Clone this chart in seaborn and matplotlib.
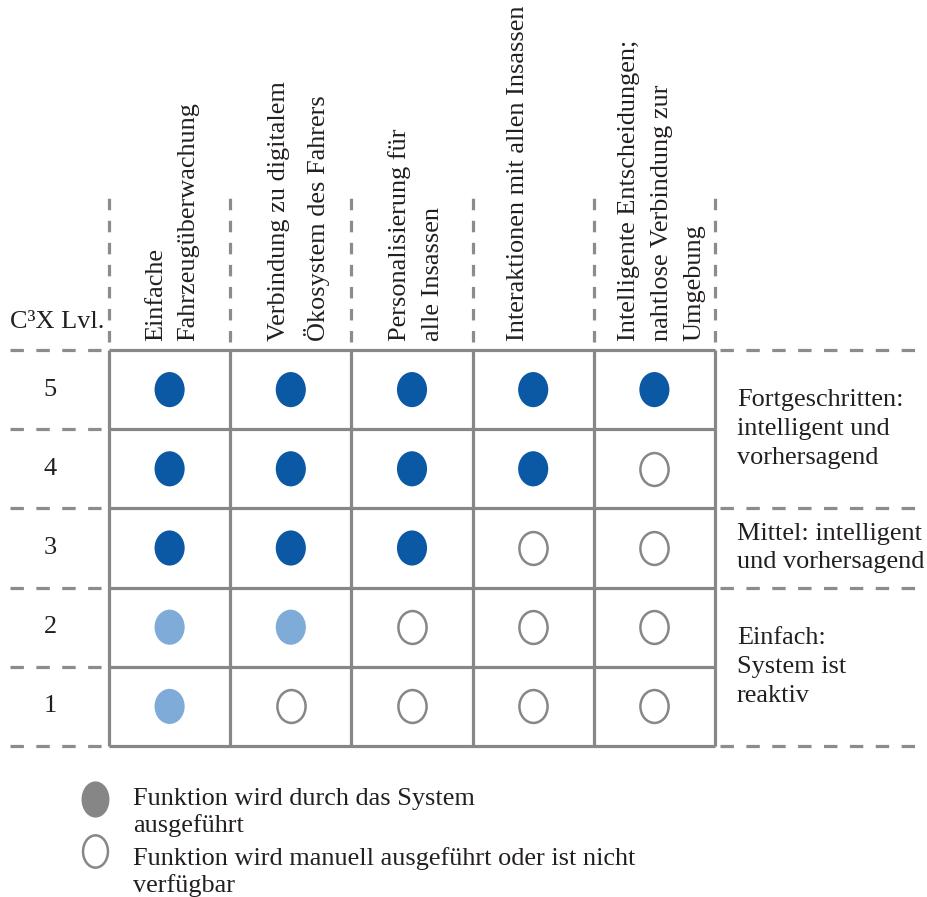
import matplotlib
matplotlib.use("Agg")
import matplotlib.pyplot as plt
import seaborn as sns
import pandas as pd
from matplotlib.path import Path
from matplotlib.transforms import Affine2D

# ---------------- data ----------------
columns = [
    "Einfache\nFahrzeugüberwachung",
    "Verbindung zu digitalem\nÖkosystem des Fahrers",
    "Personalisierung für\nalle Insassen",
    "Interaktionen mit allen Insassen",
    "Intelligente Entscheidungen;\nnahtlose Verbindung zur\nUmgebung",
]
levels = [1, 2, 3, 4, 5]
# state per column: 0 = manual / not available, 1 = basic (light), 2 = advanced (dark)
level_1 = [1, 0, 0, 0, 0]
level_2 = [1, 1, 0, 0, 0]
level_3 = [2, 2, 2, 0, 0]
level_4 = [2, 2, 2, 2, 0]
level_5 = [2, 2, 2, 2, 2]
group_labels = ["Einfach:\nSystem ist\nreaktiv",
                "Mittel: intelligent\nund vorhersagend",
                "Fortgeschritten:\nintelligent und\nvorhersagend"]
group_spans = [(1, 2), (3, 3), (4, 5)]
level_title = "C³X Lvl."
legend_labels = ["Funktion wird durch das System\nausgeführt",
                 "Funktion wird manuell ausgeführt oder ist nicht\nverfügbar"]

# ---------------- style ----------------
sns.set_theme(style="white")
plt.rcParams["font.family"] = ["Liberation Serif", "DejaVu Serif"]
FS = 18.9
TXT = "#231f20"
LINE = "#878787"
DASH = "#8c8c8c"
DARK = "#0b58a5"
LIGHT = "#7eabd8"
palette = {1: LIGHT, 2: DARK}

W, H = 927, 897
X0, CW = 109, 121.2   # layout: grid left px, column width px
Y0, RH = 746, 79.2    # layout: grid bottom px, row height px


def px(x):
    return (x - X0) / CW


def py(y):
    return (Y0 - y) / RH


fig = plt.figure(figsize=(W / 100, H / 100), dpi=100)
ax = fig.add_axes([0, 0, 1, 1])

ncol = len(columns)
nlev = len(levels)

rows = []
for lev, states in zip(levels, [level_1, level_2, level_3, level_4, level_5]):
    for ci, s in enumerate(states):
        rows.append({"col": ci + 0.5, "lev": lev - 0.5, "state": s})
df = pd.DataFrame(rows)

# ellipse marker (30 x 35 px)
ell = Path.unit_circle().transformed(Affine2D().scale(30 / 35, 1.0))
ell_leg = Path.unit_circle().transformed(Affine2D().scale(27 / 35, 1.0))

# grid solid lines
for c in range(ncol + 1):
    ax.plot([c, c], [0, nlev], color=LINE, lw=2.3, solid_capstyle="butt", zorder=2)
for r in range(nlev + 1):
    ax.plot([0, ncol], [r, r], color=LINE, lw=2.3, solid_capstyle="butt", zorder=2)

# dashed extensions
for r in range(nlev + 1):
    ax.plot([px(10), 0], [r, r], color=DASH, lw=2.3, dashes=(4.2, 3.9), zorder=1)
bounds = sorted(set([lo - 1 for lo, hi in group_spans] + [hi for lo, hi in group_spans]))
for b in bounds:
    ax.plot([px(720), px(916)], [b, b], color=DASH, lw=2.3, dashes=(4.2, 3.9), zorder=1)
for c in range(ncol + 1):
    ax.plot([c, c], [py(342), py(190)], color=DASH, lw=2.3, dashes=(3.6, 3.3), zorder=1)

# circles
filled = df[df.state > 0]
empty = df[df.state == 0]
sns.scatterplot(data=filled, x="col", y="lev", hue="state", palette=palette,
                marker=ell, s=640, linewidth=0, legend=False, ax=ax, zorder=3)
sns.scatterplot(data=empty, x="col", y="lev", marker=ell, s=560,
                facecolor="white", edgecolor=LINE, linewidth=1.8, legend=False,
                ax=ax, zorder=3)
ax.set_xlim(px(0), px(W))
ax.set_ylim(py(H), py(0))
ax.set_xlabel("")
ax.set_ylabel("")
ax.axis("off")

# level numbers + title
for lev in levels:
    ax.text(px(50), lev - 0.5, str(lev), ha="center", va="center", fontsize=FS, color=TXT)
ax.text(px(10), py(322), level_title, ha="left", va="center", fontsize=FS, color=TXT)

# column headers (rotated)
col_centers = [172, 299, 416, 518, 662]
for lab, cx in zip(columns, col_centers):
    ax.text(px(cx), py(341), lab, rotation=90, ha="center", va="bottom",
            multialignment="left", fontsize=FS, color=TXT, linespacing=1.62)

# group labels
for lab, (lo, hi) in zip(group_labels, group_spans):
    ax.text(px(737), (lo - 1 + hi) / 2, lab, ha="left", va="center",
            fontsize=FS, color=TXT, linespacing=1.4)

# legend
ax.scatter([px(95)], [py(799)], marker=ell_leg, s=680, color="#868686", linewidth=0,
           clip_on=False)
ax.scatter([px(95)], [py(851)], marker=ell_leg, s=540, facecolor="white",
           edgecolor=LINE, linewidth=1.8, clip_on=False)
ax.text(px(133), py(788), legend_labels[0], ha="left", va="top", fontsize=FS,
        color=TXT, linespacing=1.22)
ax.text(px(133), py(847), legend_labels[1], ha="left", va="top", fontsize=FS,
        color=TXT, linespacing=1.22)

fig.savefig("out.png", dpi=100, facecolor="white")
